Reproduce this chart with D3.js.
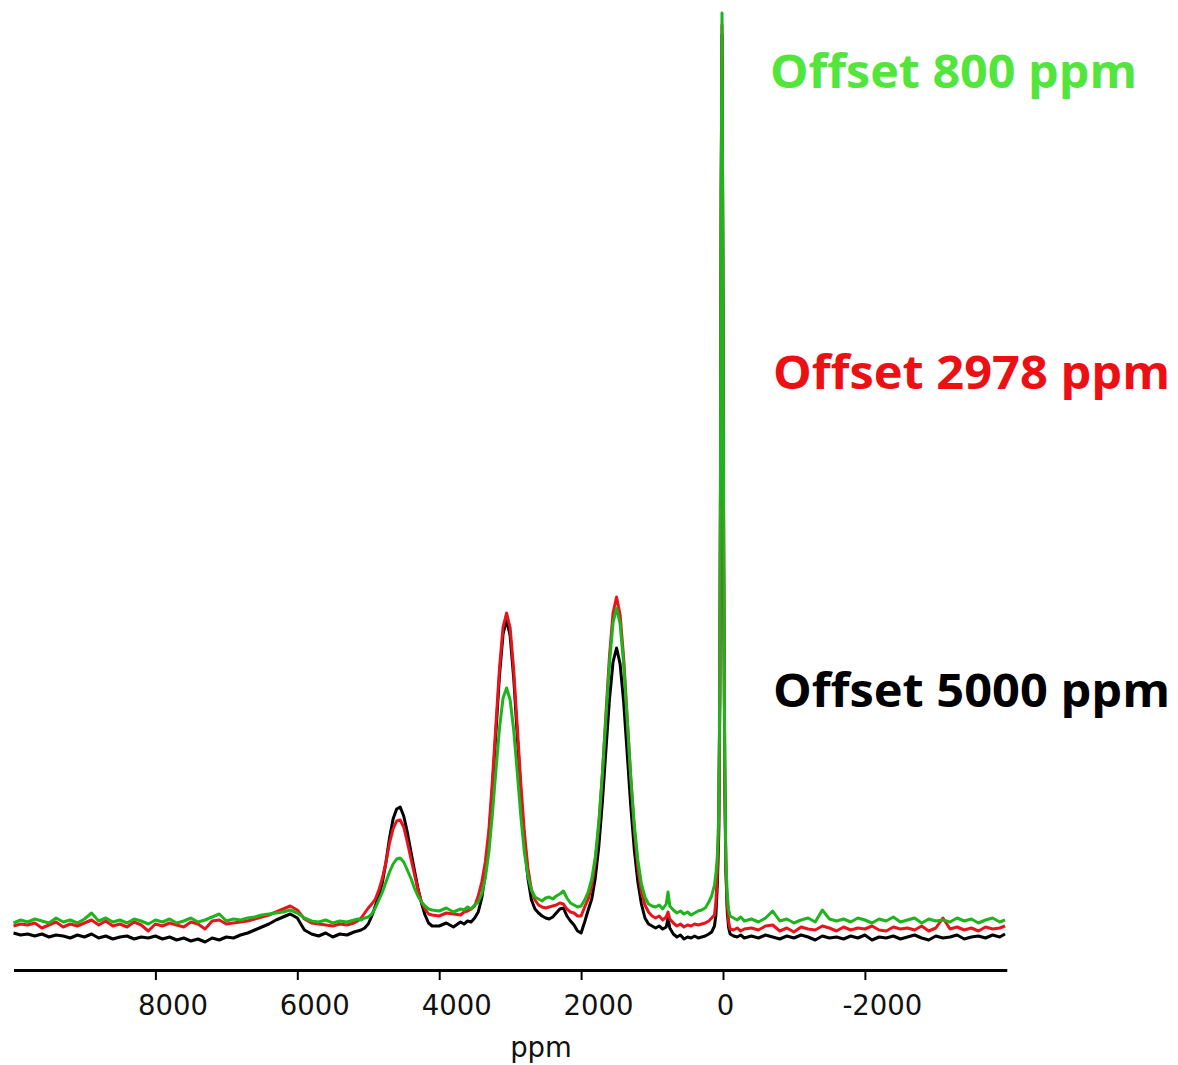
<!DOCTYPE html>
<html>
<head>
<meta charset="utf-8">
<script src="https://cdn.jsdelivr.net/npm/d3@7"></script>
<style>
  body { margin: 0; background: #fff; }
  svg { display: block; }
</style>
</head>
<body>
<svg id="chart" width="1178" height="1065"></svg>
<script>
// chemical shift grid (ppm), shared by the three spectra
const ppm = [
  10000, 9900, 9800, 9700, 9600, 9500, 9400, 9300, 9200, 9100,
  9000, 8900, 8800, 8700, 8600, 8500, 8400, 8300, 8200, 8100,
  8000, 7900, 7800, 7700, 7600, 7500, 7400, 7300, 7200, 7100,
  7000, 6900, 6800, 6700, 6600, 6500, 6400, 6300, 6200, 6100,
  6000, 5900, 5800, 5700, 5600, 5500, 5400, 5300, 5200,
  5150, 5100, 5050, 5000, 4950, 4900, 4850, 4800, 4750, 4700, 4650,
  4600, 4550, 4500, 4450, 4400, 4350, 4300, 4250, 4200, 4150, 4100,
  4000, 3900, 3800, 3700,
  3650, 3600, 3550, 3500, 3450, 3400, 3350, 3300, 3250, 3200, 3150, 3100, 3050,
  3000, 2950, 2900, 2850, 2800, 2750, 2700, 2650, 2600, 2550, 2500,
  2450, 2400, 2350, 2300, 2250, 2200, 2150, 2100, 2050, 2000,
  1950, 1900, 1850, 1800, 1750, 1700, 1650, 1600, 1550, 1500,
  1450, 1400, 1350, 1300, 1250, 1200, 1150, 1100, 1050, 1000,
  950, 900, 850, 800, 775, 750, 700, 650, 600, 550, 500, 450, 400, 350,
  300, 250, 200, 160, 120, 100, 80, 60, 45, 35, 25, 14, 0,
  -10, -25, -40, -60, -80, -100, -150, -200, -250, -300,
  -400, -500, -600, -700, -800, -900, -1000, -1100, -1200, -1300,
  -1400, -1500, -1600, -1700, -1800, -1900, -2000, -2100, -2200, -2300,
  -2400, -2500, -2600, -2700, -2800, -2900, -3000, -3100, -3200, -3300,
  -3400, -3500, -3600, -3700, -3800, -3900, -3975
];

// intensities (arbitrary units) for each transmitter offset
const offset5000 = [
  7, 5, 6, 4, 6, 3, 5, 4, 2, 5,
  3, 6, 2, 4, 1, 3, 4, 1, 3, 2,
  4, 1, 3, 0, 2, -1, 1, -2, 2, 0,
  3, 2, 5, 7, 10, 13, 16, 20, 23, 26,
  22, 10, 6, 4, 7, 3, 6, 5, 8,
  9, 10, 12, 16, 24, 34, 45, 58, 78, 102, 121,
  131, 133, 124, 108, 89, 70, 52, 37, 25, 17, 14,
  14, 17, 13, 18,
  16, 19, 18, 22, 28, 42, 66, 102, 152, 208, 265, 306, 320,
  304, 262, 205, 148, 98, 62, 40, 31, 27, 24, 22,
  21, 23, 27, 31, 32, 24, 19, 15, 9, 7,
  18, 30, 41, 62, 94, 138, 190, 241, 278, 292,
  276, 238, 186, 134, 90, 58, 36, 22, 16, 14,
  12, 14, 11, 13, 22, 12, 6, 3, 5, 1, 3, 2, 4, 2,
  3, 4, 6, 8, 14, 25, 55, 105, 240, 460, 750, 905, 630,
  370, 160, 70, 28, 12, 6, 4, 3, 5, 2,
  4, 2, 5, 3, 1, 4, 2, 5, 3, 0,
  4, 2, 3, 1, 4, 2, 5, 0, 3, 2,
  4, 1, 3, 5, 2, 0, 4, 2, 3, 5,
  1, 3, 4, 2, 5, 3, 6
];

const offset2978 = [
  14, 16, 15, 17, 12, 15, 18, 13, 16, 14,
  17, 20, 15, 19, 14, 16, 13, 18, 15, 9,
  16, 14, 17, 15, 13, 18, 16, 11, 19, 20,
  16, 17, 18, 19, 21, 23, 25, 28, 31, 34,
  30, 21, 17, 16, 15, 14, 16, 15, 17,
  19, 22, 27, 32, 36, 41, 50, 62, 78, 97, 111,
  119, 120, 113, 98, 82, 66, 50, 38, 31, 26, 25,
  24, 27, 26, 25,
  28, 29, 31, 34, 44, 58, 78, 110, 160, 216, 272, 313, 327,
  312, 270, 214, 157, 108, 72, 50, 40, 35, 33, 32,
  33, 34, 35, 37, 36, 31, 28, 27, 24, 24,
  33, 41, 54, 78, 115, 166, 226, 284, 327, 343,
  325, 282, 222, 162, 110, 72, 48, 35, 28, 24,
  22, 24, 20, 23, 28, 21, 17, 14, 16, 13, 15, 14, 16, 15,
  16, 17, 19, 22, 25, 38, 68, 115, 245, 465, 755, 915, 635,
  375, 165, 75, 35, 18, 11, 10, 12, 9, 11,
  12, 10, 14, 15, 9, 12, 8, 13, 11, 10,
  14, 12, 9, 13, 10, 12, 11, 14, 10, 9,
  13, 11, 12, 10, 14, 9, 12, 22, 11, 13,
  10, 12, 9, 13, 11, 12, 14
];

const offset800 = [
  17, 20, 18, 21, 19, 17, 22, 18, 20, 17,
  21, 27, 19, 22, 18, 20, 17, 21, 19, 16,
  20, 18, 21, 17, 19, 22, 18, 20, 23, 26,
  19, 21, 20, 22, 23, 25, 26, 27, 28, 30,
  27, 22, 19, 18, 20, 17, 19, 18, 20,
  21, 20, 22, 23, 26, 32, 40, 48, 58, 68, 76,
  81, 82, 78, 70, 62, 52, 44, 38, 34, 31, 30,
  29, 32, 28, 31,
  30, 33, 31, 35, 38, 46, 62, 88, 126, 170, 212, 242, 252,
  240, 210, 168, 124, 88, 64, 50, 43, 41, 39, 42,
  43, 41, 44, 46, 49, 42, 37, 35, 33, 34,
  40, 48, 61, 83, 118, 166, 222, 277, 317, 332,
  316, 276, 220, 163, 115, 80, 56, 43, 36, 34,
  33, 35, 31, 36, 48, 34, 30, 27, 29, 26, 28, 25, 27, 29,
  30, 32, 38, 44, 55, 66, 84, 125, 260, 480, 770, 927, 650,
  390, 175, 82, 45, 30, 24, 22, 20, 23, 19,
  21, 18, 22, 29, 19, 21, 17, 20, 22, 18,
  30, 21, 19, 21, 18, 22, 20, 17, 21, 19,
  23, 18, 20, 22, 17, 21, 19, 20, 18, 22,
  19, 21, 17, 20, 22, 18, 20
];

const tickValues = [8000, 6000, 4000, 2000, 0, -2000];

// drawn back to front: black, red, green on top
const series = [
  { name: "Offset 5000 ppm", values: offset5000, line: "#000000", label: "#000000", labelY: 707, labelX: 773, labelW: 397 },
  { name: "Offset 2978 ppm", values: offset2978, line: "#e8141c", label: "#ec0f14", labelY: 389, labelX: 773, labelW: 397 },
  { name: "Offset 800 ppm", values: offset800, line: "#1db41d", label: "#52e63c", labelY: 88, labelX: 770, labelW: 367 },
];

const svg = d3.select("#chart");

const x = d3.scaleLinear()
  .domain([10000, -4000])
  .range([13.5, 1006.8]);

const y = d3.scaleLinear()
  .domain([0, 927])
  .range([940, 13]);

const line = d3.line()
  .x(d => x(d[0]))
  .y(d => y(d[1]));

const spectra = svg.append("g")
  .attr("class", "spectra")
  .attr("fill", "none")
  .attr("stroke-width", 3)
  .attr("stroke-linejoin", "round");

series.forEach(s => {
  const pts = ppm.map((p, i) => [p, s.values[i]]);
  spectra.append("path")
    .datum(pts)
    .attr("stroke", s.line)
    .attr("d", line);
});

// axis
const axisY = 970;
const axis = d3.axisBottom(x)
  .tickValues(tickValues)
  .tickFormat(d => String(d))
  .tickSizeInner(10)
  .tickSizeOuter(0)
  .tickPadding(15);

const axisG = svg.append("g")
  .attr("transform", `translate(0,${axisY})`)
  .call(axis);

axisG.select(".domain")
  .attr("stroke", "#000")
  .attr("stroke-width", 3.2);

axisG.selectAll(".tick line")
  .attr("stroke", "#000")
  .attr("stroke-width", 2);

axisG.selectAll(".tick text")
  .attr("font-family", "DejaVu Sans, sans-serif")
  .attr("font-size", 27.5)
  .attr("fill", "#111")
  .attr("dx", d => d === 0 ? 2 : 17);

svg.append("text")
  .attr("x", 541)
  .attr("y", 1057)
  .attr("text-anchor", "middle")
  .attr("font-family", "DejaVu Sans, sans-serif")
  .attr("font-size", 27.5)
  .attr("fill", "#111")
  .text("ppm");

// offset labels
svg.append("g")
  .selectAll("text")
  .data(series)
  .join("text")
  .attr("x", d => d.labelX)
  .attr("y", d => d.labelY)
  .attr("font-family", "Open Sans, Noto Sans, sans-serif")
  .attr("font-weight", 700)
  .attr("font-size", 47)
  .attr("textLength", d => d.labelW)
  .attr("lengthAdjust", "spacingAndGlyphs")
  .attr("fill", d => d.label)
  .text(d => d.name);
</script>
</body>
</html>
